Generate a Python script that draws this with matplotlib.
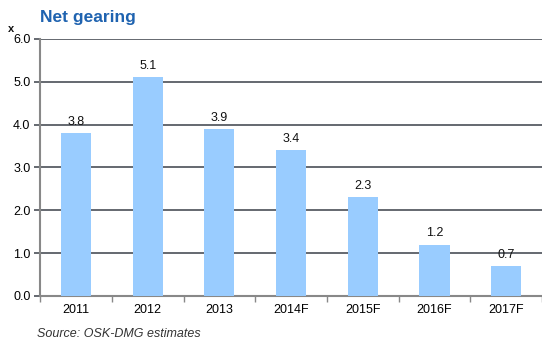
import matplotlib
matplotlib.use("Agg")
import matplotlib.pyplot as plt
import numpy as np

categories = ["2011", "2012", "2013", "2014F", "2015F", "2016F", "2017F"]
values = [3.8, 5.1, 3.9, 3.4, 2.3, 1.2, 0.7]
yticks = [0.0, 1.0, 2.0, 3.0, 4.0, 5.0, 6.0]

plt.rcParams["font.family"] = ["Liberation Sans", "DejaVu Sans"]

fig = plt.figure(figsize=(5.42, 3.47), dpi=100)
ax = fig.add_axes([0.074, 0.147, 0.926, 0.741])

x = np.arange(len(categories))
ax.bar(x, values, width=0.42, color="#99CCFF", zorder=3)
for xi, v in zip(x, values):
    ax.text(xi, v + 0.12, f"{v:.1f}", ha="center", va="bottom", fontsize=9, color="#111111", zorder=4)

ax.set_xlim(-0.5, len(categories) - 0.5)
ax.set_ylim(0, 6)
ax.set_yticks(yticks)
ax.set_yticklabels([f"{t:.1f}" for t in yticks], fontsize=9)
ax.yaxis.grid(True, color="#4a4f57", linewidth=1.2, zorder=1)
ax.set_axisbelow(True)

ax.set_xticks(x)
ax.set_xticklabels(categories, fontsize=9)
ax.tick_params(axis="x", length=0, pad=6)
ax.set_xticks(np.arange(len(categories) + 1) - 0.5, minor=True)
ax.tick_params(axis="x", which="minor", length=4, color="#888888", width=1)
ax.tick_params(axis="y", length=4, color="#4a4f57", width=1.2, pad=3)

for side in ["top", "right"]:
    ax.spines[side].set_visible(False)
for side in ["left", "bottom"]:
    ax.spines[side].set_color("#888888")
    ax.spines[side].set_linewidth(1.5)

fig.text(0.074, 0.950, "Net gearing", fontsize=12.5, fontweight="bold", color="#1F63B0", va="center")
fig.text(0.015, 0.915, "x", fontsize=8, fontweight="bold", color="#111111", va="center")
fig.text(0.068, 0.038, "Source: OSK-DMG estimates", fontsize=9, fontstyle="italic", color="#333333", va="center")

fig.savefig("out.png", dpi=100)
